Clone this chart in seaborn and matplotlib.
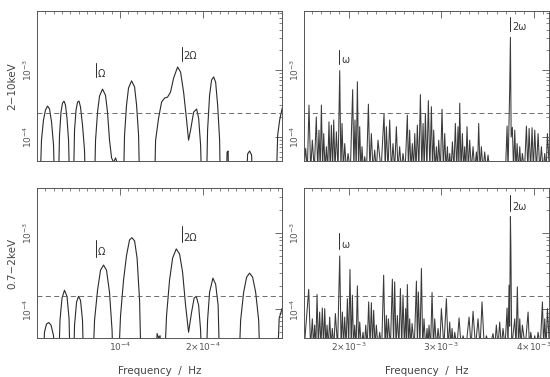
import numpy as np
import pandas as pd
import seaborn as sns
import matplotlib.pyplot as plt
from matplotlib.ticker import FixedLocator, MultipleLocator, LogLocator, NullFormatter

LO = 1e-5     # lobes dip out of the plotted range
DIP = 3.2e-5  # troughs between the narrow spikes

# 2-10 keV, low frequencies (freq in 1e-5 Hz)
hard_low_f = [0.30, 0.54, 0.78, 1.02, 1.27, 1.51, 1.75, 1.99, 2.17,
              2.53, 2.71, 2.89, 3.07, 3.25, 3.43, 3.61, 3.80, 3.98,
              4.34, 4.52, 4.70, 4.88, 5.06, 5.24, 5.48, 5.72, 5.90,
              6.87, 7.05, 7.29, 7.53, 7.89, 8.25, 8.49, 8.73, 8.98, 9.22, 9.46, 9.64, 9.82,
              10.36, 10.54, 10.78, 11.02, 11.39, 11.75, 11.99, 12.23, 12.41,
              14.10, 14.28, 14.64, 15.00, 15.36, 15.72, 16.08, 16.45, 16.93, 17.29, 17.65,
              18.01, 18.25, 18.49, 18.86, 19.22, 19.46, 19.70, 19.88,
              20.36, 20.54, 20.78, 21.02, 21.27, 21.51, 21.75, 21.99, 22.11,
              22.71, 22.89, 23.01, 23.13,
              25.12, 25.36, 25.60, 25.84, 26.02,
              28.73, 28.98, 29.22, 29.52]
hard_low_p = [LO, 9.0e-5, 1.8e-4, 2.53e-4, 2.9e-4, 2.62e-4, 1.68e-4, 7.6e-5, LO,
              LO, 1.07e-4, 2.36e-4, 3.21e-4, 3.44e-4, 3.0e-4, 1.92e-4, 9.0e-5, LO,
              LO, 1.27e-4, 2.53e-4, 3.33e-4, 3.44e-4, 2.8e-4, 1.51e-4, 6.4e-5, LO,
              LO, 9.0e-5, 2.36e-4, 4.1e-4, 5.2e-4, 4.2e-4, 2.36e-4, 9.0e-5, 4.9e-5, 4.2e-5, 4.9e-5, 4.2e-5, LO,
              LO, 1.07e-4, 3.0e-4, 5.4e-4, 6.9e-4, 5.6e-4, 3.0e-4, 1.07e-4, LO,
              LO, 9.0e-5, 1.92e-4, 3.33e-4, 3.82e-4, 3.95e-4, 4.7e-4, 7.6e-4, 1.11e-3, 9.3e-4, 4.7e-4,
              1.8e-4, 9.0e-5, 1.27e-4, 2.36e-4, 2.62e-4, 1.92e-4, 7.6e-5, LO,
              LO, 1.27e-4, 4.2e-4, 7.1e-4, 7.9e-4, 6.6e-4, 3.0e-4, 9.0e-5, LO,
              LO, 6.0e-5, 6.2e-5, LO,
              LO, 5.6e-5, 6.2e-5, 5.4e-5, LO,
              LO, 1.07e-4, 1.8e-4, 2.7e-4]

# 0.7-2 keV, low frequencies (freq in 1e-5 Hz)
soft_low_f = [0.66, 0.90, 1.14, 1.42, 1.69, 1.99, 2.17,
              2.53, 2.77, 3.01, 3.31, 3.61, 3.86, 4.04,
              4.34, 4.52, 4.76, 5.00, 5.24, 5.48, 5.66,
              6.63, 6.93, 7.29, 7.65, 8.01, 8.37, 8.73, 9.04, 9.22,
              9.70, 10.06, 10.42, 10.78, 11.14, 11.42, 11.75, 12.05, 12.35, 12.59,
              14.22, 14.46, 14.64, 14.82, 15.00,
              15.24, 15.60, 15.96, 16.33, 16.77, 17.17, 17.53, 17.89, 18.25, 18.61, 18.92,
              19.18, 19.46, 19.70, 19.88,
              20.30, 20.54, 20.78, 21.18, 21.51, 21.81, 22.05,
              24.22, 24.52, 24.88, 25.24, 25.60, 25.96, 26.33, 26.69, 26.93,
              28.86, 29.16, 29.52]
soft_low_p = [LO, 5.0e-5, 6.4e-5, 6.7e-5, 6.2e-5, 4.5e-5, LO,
              LO, 7.2e-5, 1.4e-4, 1.78e-4, 1.48e-4, 7.6e-5, LO,
              LO, 6.2e-5, 1.24e-4, 1.48e-4, 1.31e-4, 7.2e-5, LO,
              LO, 7.2e-5, 1.78e-4, 3.26e-4, 3.8e-4, 3.26e-4, 1.67e-4, 5.3e-5, LO,
              LO, 8.3e-5, 2.41e-4, 5.1e-4, 8.1e-4, 8.7e-4, 7.9e-4, 4.7e-4, 1.31e-4, LO,
              LO, 4.8e-5, 4.2e-5, 4.5e-5, LO,
              LO, 8.3e-5, 2.41e-4, 4.7e-4, 6.2e-4, 5.3e-4, 3.07e-4, 1.13e-4, 5.0e-5, 9.1e-5, 1.4e-4,
              1.48e-4, 1.13e-4, 5.3e-5, LO,
              LO, 7.2e-5, 1.67e-4, 2.56e-4, 2.13e-4, 1.13e-4, LO,
              LO, 7.2e-5, 1.67e-4, 2.64e-4, 2.98e-4, 2.64e-4, 1.67e-4, 7.2e-5, LO,
              LO, 7.6e-5, 1.03e-4]

# 2-10 keV, high frequencies (freq in mHz)
hard_high_f = [1.515, 1.535, 1.553, 1.571, 1.589, 1.607, 1.628, 1.650, 1.665, 1.679,
               1.692, 1.705, 1.718, 1.730, 1.745, 1.759, 1.773, 1.787, 1.800, 1.813,
               1.826, 1.838, 1.852, 1.867, 1.885, 1.903, 1.916, 1.928, 1.943, 1.957,
               1.975, 1.993, 2.018, 2.043, 2.056, 2.068, 2.081, 2.094, 2.107, 2.119,
               2.132, 2.144, 2.158, 2.173, 2.193, 2.213, 2.229, 2.245, 2.263, 2.281,
               2.299, 2.317, 2.350, 2.382, 2.395, 2.407, 2.425, 2.443, 2.461, 2.479,
               2.497, 2.515, 2.533, 2.551, 2.569, 2.587, 2.610, 2.634, 2.646, 2.659,
               2.673, 2.688, 2.701, 2.714, 2.728, 2.742, 2.758, 2.775, 2.790, 2.804,
               2.816, 2.829, 2.845, 2.861, 2.877, 2.894, 2.906, 2.919, 2.933, 2.948,
               2.960, 2.973, 2.991, 3.009, 3.023, 3.038, 3.052, 3.067, 3.079, 3.092,
               3.106, 3.121, 3.137, 3.153, 3.167, 3.182, 3.191, 3.200, 3.214, 3.229,
               3.241, 3.254, 3.266, 3.279, 3.293, 3.308, 3.326, 3.344, 3.362, 3.380,
               3.392, 3.405, 3.419, 3.434, 3.452, 3.470, 3.488, 3.506, 3.524,
               3.695, 3.712, 3.722, 3.740, 3.748, 3.756, 3.769, 3.782, 3.795, 3.808,
               3.820, 3.835, 3.849, 3.863, 3.877, 3.900, 3.921, 3.936, 3.950, 3.966,
               3.982, 3.996, 4.011, 4.029, 4.047, 4.065, 4.083, 4.101, 4.119, 4.134,
               4.148, 4.170]
hard_high_p = [DIP, 6.8e-5, DIP, 3.0e-4, DIP, 9.0e-5, DIP, 2.0e-4, DIP, 1.27e-4,
               DIP, 3.0e-4, DIP, 1.13e-4, DIP, 7.2e-5, DIP, 1.69e-4, DIP, 1.51e-4,
               DIP, 1.8e-4, DIP, 1.2e-4, DIP, 9.8e-4, DIP, 1.6e-4, DIP, 8.0e-5,
               DIP, 5.7e-5, DIP, 5.1e-4, DIP, 1.8e-4, DIP, 6.7e-4, DIP, 1.43e-4,
               DIP, 7.2e-5, DIP, 5.1e-5, DIP, 3.1e-4, DIP, 1.13e-4, DIP, 6.4e-5,
               DIP, 9.0e-5, DIP, 2.25e-4, DIP, 1.43e-4, DIP, 1.8e-4, DIP, 8.0e-5,
               DIP, 1.43e-4, DIP, 7.2e-5, DIP, 5.7e-5, DIP, 2.13e-4, DIP, 1.27e-4,
               DIP, 8.0e-5, DIP, 1.13e-4, DIP, 1.51e-4, DIP, 4.3e-4, DIP, 1.6e-4,
               DIP, 2.25e-4, DIP, 3.5e-4, DIP, 2.84e-4, DIP, 1.27e-4, DIP, 7.2e-5,
               DIP, 9.0e-5, DIP, 2.6e-4, DIP, 1.13e-4, DIP, 7.2e-5, DIP, 5.7e-5,
               DIP, 8.5e-5, DIP, 1.6e-4, DIP, 1.43e-4, DIP, 3.2e-4, DIP, 1.13e-4,
               DIP, 7.2e-5, DIP, 1.43e-4, DIP, 9.0e-5, DIP, 7.2e-5, DIP, 6.0e-5,
               DIP, 1.6e-4, DIP, 7.2e-5, DIP, 6.0e-5, DIP, 5.4e-5, DIP,
               DIP, 1.46e-4, DIP, 5.0e-4, 3.08e-3, 1.0e-4, 1.4e-4, DIP, 1.27e-4, DIP,
               8.0e-5, DIP, 7.2e-5, DIP, 5.7e-5, DIP, 1.46e-4, DIP, 1.35e-4, DIP,
               1.38e-4, DIP, 1.27e-4, DIP, 1.13e-4, DIP, 7.2e-5, DIP, 5.7e-5, DIP,
               1.13e-4, DIP]

# 0.7-2 keV, high frequencies (freq in mHz)
soft_high_f = [1.520, 1.568, 1.588, 1.607, 1.620, 1.632, 1.645, 1.658, 1.672, 1.686,
               1.700, 1.715, 1.728, 1.741, 1.754, 1.766, 1.780, 1.795, 1.809, 1.823,
               1.840, 1.856, 1.880, 1.903, 1.918, 1.932, 1.945, 1.957, 1.972, 1.986,
               2.000, 2.014, 2.027, 2.040, 2.052, 2.065, 2.080, 2.094, 2.107, 2.119,
               2.137, 2.155, 2.170, 2.184, 2.200, 2.216, 2.231, 2.245, 2.258, 2.270,
               2.285, 2.299, 2.317, 2.335, 2.357, 2.378, 2.393, 2.407, 2.418, 2.429,
               2.451, 2.472, 2.485, 2.497, 2.512, 2.526, 2.543, 2.559, 2.573, 2.587,
               2.602, 2.616, 2.625, 2.634, 2.647, 2.659, 2.672, 2.685, 2.709, 2.732,
               2.743, 2.753, 2.770, 2.786, 2.800, 2.814, 2.831, 2.847, 2.858, 2.868,
               2.885, 2.901, 2.916, 2.930, 2.948, 2.966, 2.984, 3.002, 3.029, 3.056,
               3.074, 3.092, 3.105, 3.117, 3.132, 3.146, 3.170, 3.193, 3.215, 3.236,
               3.268, 3.301, 3.323, 3.344, 3.371, 3.398, 3.420, 3.441, 3.465, 3.488,
               3.524, 3.560, 3.578, 3.596, 3.614, 3.632, 3.650, 3.668, 3.690, 3.712,
               3.722, 3.733, 3.740, 3.748, 3.753, 3.762, 3.795, 3.809, 3.823, 3.836,
               3.849, 3.863, 3.877, 3.908, 3.939, 3.954, 3.968, 3.990, 4.011, 4.029,
               4.047, 4.070, 4.094, 4.107, 4.119, 4.134, 4.148, 4.170]
soft_high_p = [DIP, 1.83e-4, DIP, 7.5e-5, DIP, 6.2e-5, DIP, 1.56e-4, DIP, 9.2e-5,
               DIP, 1.04e-4, DIP, 1.02e-4, DIP, 6.2e-5, DIP, 7.9e-5, DIP, 5.6e-5,
               DIP, 8.8e-5, DIP, 5.0e-4, DIP, 9.2e-5, DIP, 7.9e-5, DIP, 1.38e-4,
               DIP, 3.33e-4, DIP, 1.53e-4, DIP, 6.2e-5, DIP, 2.03e-4, DIP, 6.8e-5,
               DIP, 5.0e-5, DIP, 6.2e-5, DIP, 1.25e-4, DIP, 1.22e-4, DIP, 9.7e-5,
               DIP, 6.2e-5, DIP, 5.0e-5, DIP, 2.8e-4, DIP, 8.3e-5, DIP, 7.5e-5,
               DIP, 2.48e-4, DIP, 2.29e-4, DIP, 8.3e-5, DIP, 1.87e-4, DIP, 1.53e-4,
               DIP, 1.02e-4, DIP, 2.11e-4, DIP, 7.5e-5, DIP, 6.5e-5, DIP, 2.34e-4,
               DIP, 1.69e-4, DIP, 3.43e-4, DIP, 7.5e-5, DIP, 5.6e-5, DIP, 6.2e-5,
               DIP, 1.66e-4, DIP, 7.5e-5, DIP, 5.6e-5, DIP, 1.02e-4, DIP, 1.38e-4,
               DIP, 6.8e-5, DIP, 5.6e-5, DIP, 5.0e-5, DIP, 7.7e-5, DIP, 4.5e-5,
               DIP, 7.9e-5, DIP, 9.4e-5, DIP, 7.5e-5, DIP, 1.25e-4, DIP, 4.5e-5,
               DIP, 4.8e-5, DIP, 6.2e-5, DIP, 6.8e-5, DIP, 5.6e-5, DIP, 1.04e-4,
               DIP, 2.07e-4, 6.0e-5, 1.64e-3, 6.5e-4, DIP, 7.5e-5, DIP, 1.97e-4, DIP,
               7.5e-5, DIP, 6.2e-5, DIP, 9.2e-5, DIP, 5.0e-5, DIP, 4.5e-5, DIP,
               5.0e-5, DIP, 1.25e-4, DIP, 7.5e-5, DIP, 1.02e-4, DIP]

hard_level = 2.3e-4
soft_level = 1.48e-4

# frequency markers: (freq, bar top, bar bottom, label y, label)
marks_hard_low = [(7.05e-5, 1.27e-3, 7.85e-4, 8.7e-4, 'Ω'),
                  (17.41e-5, 2.2e-3, 1.36e-3, 1.62e-3, '2Ω')]
marks_soft_low = [(7.05e-5, 8.1e-4, 4.83e-4, 5.6e-4, 'Ω'),
                  (17.41e-5, 1.24e-3, 7.6e-4, 8.6e-4, '2Ω')]
marks_hard_high = [(1.895e-3, 1.99e-3, 1.23e-3, 1.41e-3, 'ω'),
                   (3.748e-3, 6.2e-3, 3.82e-3, 4.38e-3, '2ω')]
marks_soft_high = [(1.895e-3, 1.0e-3, 6.2e-4, 6.95e-4, 'ω'),
                   (3.748e-3, 3.16e-3, 1.95e-3, 2.2e-3, '2ω')]

sns.set_theme(style='white')
plt.rcParams['font.family'] = ['DejaVu Sans']

INK = '#2b2b2b'
GREY = '#555555'

fig = plt.figure(figsize=(5.5, 3.77), dpi=100)
W, H = 550.0, 377.0


def box(l, t, r, b):
    return [l / W, 1 - b / H, (r - l) / W, (b - t) / H]


def draw_panel(ax, freq, power, xlim, ylim, level, marks, lw, ink):
    df = pd.DataFrame({'freq': freq, 'power': power})
    sns.lineplot(data=df, x='freq', y='power', ax=ax, sort=False,
                 estimator=None, color=ink, lw=lw)
    ax.set_yscale('log')
    ax.set_xlim(*xlim)
    ax.set_ylim(*ylim)
    ax.axhline(level, color=GREY, lw=0.6, ls=(0, (6, 4)))
    for f, top, bot, ty, txt in marks:
        ax.plot([f, f], [bot, top], color=INK, lw=0.7)
        ax.text(f + (xlim[1] - xlim[0]) * 0.008, ty, txt, fontsize=7,
                color='#333333', ha='left', va='center')
    ax.set_xlabel('')
    ax.set_ylabel('')
    ax.yaxis.set_major_locator(FixedLocator([1e-4, 1e-3]))
    ax.set_yticklabels([r'$10^{-4}$', r'$10^{-3}$'], rotation=90, va='center')
    ax.yaxis.set_minor_locator(LogLocator(base=10, subs=np.arange(2, 10)))
    ax.yaxis.set_minor_formatter(NullFormatter())
    ax.tick_params(which='both', direction='in', top=True, right=True,
                   color=GREY, labelcolor=GREY, labelsize=6.5, pad=2)
    ax.tick_params(which='major', length=5, width=0.6)
    ax.tick_params(which='minor', length=2.5, width=0.5)
    for s in ax.spines.values():
        s.set_color(GREY)
        s.set_linewidth(0.7)


ax_tl = fig.add_axes(box(37, 11, 282, 161))
ax_tr = fig.add_axes(box(304, 11, 549, 161))
ax_bl = fig.add_axes(box(37, 188, 282, 338))
ax_br = fig.add_axes(box(304, 188, 549, 338))

low_xlim = (0, 2.95e-4)
high_xlim = (1.517e-3, 4.165e-3)
hard_ylim = (4.4e-5, 7.6e-3)
soft_ylim = (4.2e-5, 3.9e-3)

draw_panel(ax_tl, np.array(hard_low_f) * 1e-5, hard_low_p, low_xlim, hard_ylim,
           hard_level, marks_hard_low, 0.8, INK)
draw_panel(ax_bl, np.array(soft_low_f) * 1e-5, soft_low_p, low_xlim, soft_ylim,
           soft_level, marks_soft_low, 0.8, INK)
draw_panel(ax_tr, np.array(hard_high_f) * 1e-3, hard_high_p, high_xlim, hard_ylim,
           hard_level, marks_hard_high, 0.75, '#3a3a3a')
draw_panel(ax_br, np.array(soft_high_f) * 1e-3, soft_high_p, high_xlim, soft_ylim,
           soft_level, marks_soft_high, 0.75, '#3a3a3a')

for ax in (ax_tl, ax_bl):
    ax.xaxis.set_major_locator(FixedLocator([1e-4, 2e-4]))
    ax.xaxis.set_minor_locator(MultipleLocator(1e-5))
    ax.set_xticklabels([r'$10^{-4}$', r'$2{\times}10^{-4}$'])
for ax in (ax_tr, ax_br):
    ax.xaxis.set_major_locator(FixedLocator([2e-3, 3e-3, 4e-3]))
    ax.xaxis.set_minor_locator(MultipleLocator(1e-4))
    ax.set_xticklabels([r'$2{\times}10^{-3}$', r'$3{\times}10^{-3}$', r'$4{\times}10^{-3}$'])
for ax in (ax_tl, ax_tr):
    ax.tick_params(labelbottom=False)

ax_tl.set_ylabel('2−10keV', fontsize=7.5, color='#444444', labelpad=3)
ax_bl.set_ylabel('0.7−2keV', fontsize=7.5, color='#444444', labelpad=3)
ax_bl.set_xlabel('Frequency  /  Hz', fontsize=7.5, color='#444444', labelpad=9)
ax_br.set_xlabel('Frequency  /  Hz', fontsize=7.5, color='#444444', labelpad=9)

fig.savefig('out.png', dpi=100)
plt.close(fig)
